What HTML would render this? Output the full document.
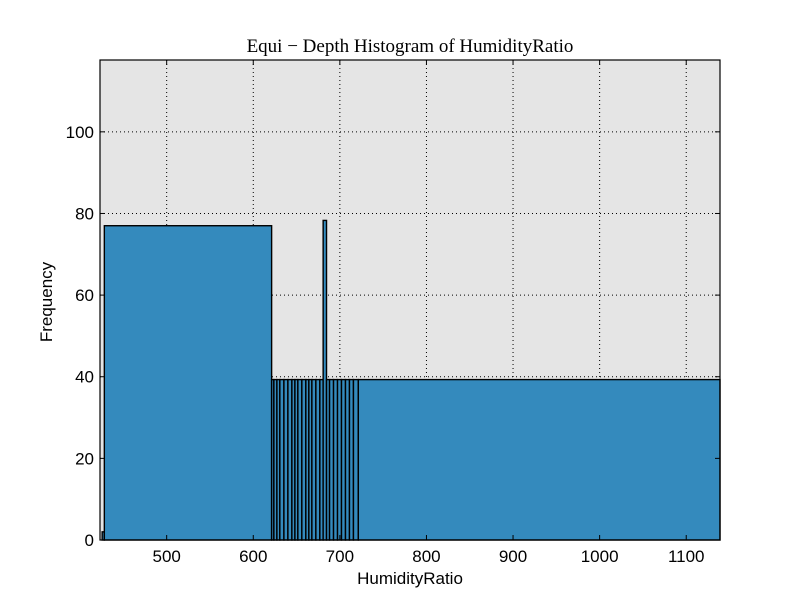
<!DOCTYPE html>
<html><head><meta charset="utf-8"><style>
body{margin:0;background:#fff;}
svg{display:block;font-family:"Liberation Sans",sans-serif;}
</style></head><body>
<svg id="chart" width="800" height="600"></svg>
<script>
const binEdges=[425.5,428,621.2,623.8,627.3,630.7,635.4,640,644.6,648.1,651.5,656.1,660.7,664.2,667.7,672.3,676.9,680.7,684.6,688.1,692.7,697.3,701.9,706.5,711.1,715.7,721.3,1139];
const counts=[2,77,39.3,39.3,39.3,39.3,39.3,39.3,39.3,39.3,39.3,39.3,39.3,39.3,39.3,39.3,39.3,78.3,39.3,39.3,39.3,39.3,39.3,39.3,39.3,39.3,39.3];
const xTicks=[500,600,700,800,900,1000,1100];
const yTicks=[0,20,40,60,80,100];
const L=100,R=720,T=60,B=540,xMin=423,xMax=1139,yMax=117.6;
const X=v=>L+(v-xMin)/(xMax-xMin)*(R-L);
const Y=v=>B-v/yMax*(B-T);
const ns="http://www.w3.org/2000/svg";
const svg=document.getElementById('chart');
function mk(t,a,p){const e=document.createElementNS(ns,t);for(const k in a)e.setAttribute(k,a[k]);(p||svg).appendChild(e);return e;}
const bg=mk('rect',{x:L,y:T,width:R-L,height:B-T,fill:'#e5e5e5'});


xTicks.forEach(v=>{
 const g=mk('line',{x1:X(v),x2:X(v),y1:T,y2:B,stroke:'#000','stroke-dasharray':'1,3','stroke-width':1});
 
 
 const t=mk('text',{x:X(v),y:B+22,'text-anchor':'middle','font-size':17});
 t.textContent=v;
 
 
});
yTicks.forEach(v=>{
 const g=mk('line',{x1:L,x2:R,y1:Y(v),y2:Y(v),stroke:'#000','stroke-dasharray':'1,3','stroke-width':1});
 
 
 const t=mk('text',{x:L-6,y:Y(v)+6,'text-anchor':'end','font-size':17});
 t.textContent=v;
 
 
});
counts.forEach((c,i)=>{
 const x0=X(binEdges[i]),x1=X(binEdges[i+1]);
 const r=mk('rect',{x:x0,y:Y(c),width:x1-x0,height:B-Y(c),fill:'#348abd',stroke:'#000','stroke-width':1.4});
 
 
});
xTicks.forEach(v=>{
 const a=mk('line',{x1:X(v),x2:X(v),y1:T,y2:T+5,stroke:'#000'});
 
 
 const b=mk('line',{x1:X(v),x2:X(v),y1:B,y2:B-5,stroke:'#000'});
 
 
});
yTicks.forEach(v=>{
 const a=mk('line',{x1:L,x2:L+5,y1:Y(v),y2:Y(v),stroke:'#000'});
 
 
 const b=mk('line',{x1:R,x2:R-5,y1:Y(v),y2:Y(v),stroke:'#000'});
 
 
});
const fr=mk('rect',{x:L,y:T,width:R-L,height:B-T,fill:'none',stroke:'#000','stroke-width':1.2});


</script>
<div style="position:absolute;left:0;top:0;width:800px;height:600px;pointer-events:none;">
<div style="position:absolute;left:0;width:820px;top:36px;text-align:center;font-family:'Liberation Serif',serif;font-size:19px;">Equi − Depth Histogram of HumidityRatio</div>
<div style="position:absolute;left:0;width:820px;top:569px;text-align:center;font-family:'Liberation Sans',sans-serif;font-size:17px;">HumidityRatio</div>
<div style="position:absolute;left:-3px;top:292px;transform:rotate(-90deg);transform-origin:center;width:100px;text-align:center;font-family:'Liberation Sans',sans-serif;font-size:17px;">Frequency</div>
</div>
</body></html>
